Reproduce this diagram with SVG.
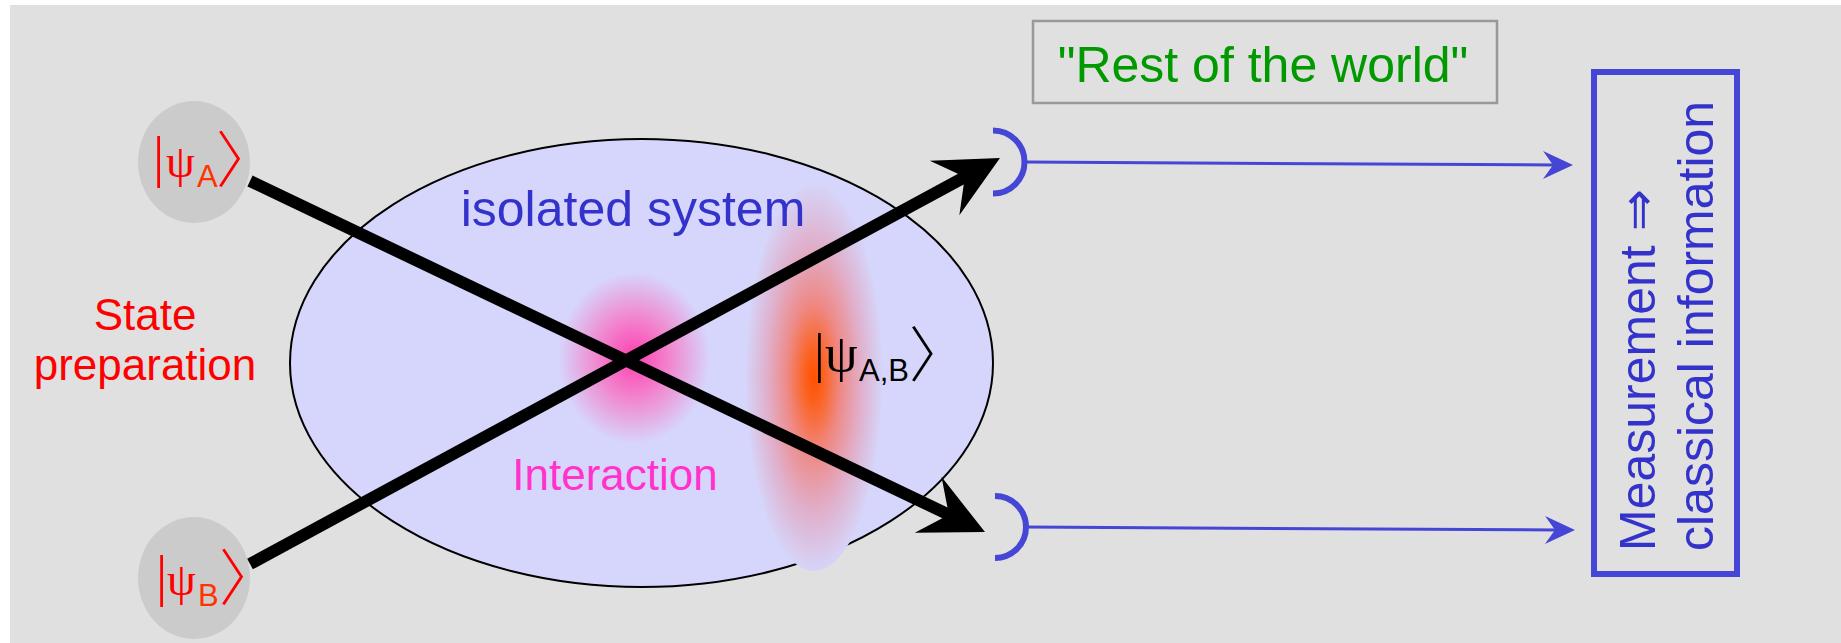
<svg xmlns="http://www.w3.org/2000/svg" width="1841" height="643" viewBox="0 0 1841 643">
<style>
.sans{font-family:"Liberation Sans",Arial,sans-serif}
.serif{font-family:"Liberation Serif","Times New Roman",serif}
.brk{font-family:"Noto Sans CJK JP",sans-serif;font-weight:300}
.bigline{stroke:#000;stroke-width:12;fill:none}
.blueline{stroke:#4646d6;stroke-width:3;fill:none}
.arc{stroke:#4646d6;stroke-width:6;fill:none}
.prep{fill:#cbcbcb}
</style>
<defs>
<marker id="bigArrow" markerUnits="userSpaceOnUse" orient="auto" overflow="visible" markerWidth="1" markerHeight="1" refX="0" refY="0">
<path d="M35,0 L-28,-31 L-5,0 L-28,31 Z" fill="#000"/>
</marker>
<marker id="blueArrow" markerUnits="userSpaceOnUse" orient="auto" overflow="visible" markerWidth="1" markerHeight="1" refX="0" refY="0">
<path d="M18,0 L-12,-14 L-2,0 L-12,14 Z" fill="#4646d6"/>
</marker>
<radialGradient id="pinkGrad" cx="0.5" cy="0.5" r="0.5">
<stop offset="0" stop-color="#ff3fb0"/>
<stop offset="0.5" stop-color="#f08ad0"/>
<stop offset="1" stop-color="#d6d6fc"/>
</radialGradient>
<radialGradient id="orangeGrad" cx="0.5" cy="0.5" r="0.5">
<stop offset="0" stop-color="#ff5000"/>
<stop offset="0.15" stop-color="#fb6424"/>
<stop offset="0.4" stop-color="#ee8a88"/>
<stop offset="0.7" stop-color="#e0b0cc"/>
<stop offset="1" stop-color="#d6d4f8"/>
</radialGradient>
</defs>
<rect x="0" y="0" width="1841" height="643" fill="#ffffff"/>
<rect x="10" y="5" width="1831" height="638" fill="#e0e0e0"/>

<g id="isolated-system">
<ellipse cx="641.5" cy="363" rx="351.5" ry="224" fill="#d6d6fc" stroke="#000" stroke-width="2"/>
</g>

<g id="interaction">
<ellipse cx="634" cy="358" rx="76" ry="86" fill="url(#pinkGrad)"/>
<text class="sans" x="615" y="490" font-size="44" fill="#ff33cc" text-anchor="middle">Interaction</text>
</g>

<g id="entangled-state">
<ellipse cx="814" cy="378" rx="68" ry="193" fill="url(#orangeGrad)"/>
<text fill="#000"><tspan class="serif" x="814" y="371" font-size="54">|</tspan><tspan class="serif" x="825" y="371" font-size="52">ψ</tspan><tspan class="sans" x="859" y="381" font-size="31">A,B</tspan><tspan class="brk" x="909" y="377" font-size="60">〉</tspan></text>
</g>

<g id="isolated-system-label">
<text class="sans" x="633" y="226" font-size="50" fill="#3333cc" text-anchor="middle">isolated system</text>
</g>

<g id="state-preparation-label">
<text class="sans" font-size="44" fill="#ff0000" text-anchor="middle"><tspan x="145" y="330">State</tspan><tspan x="145" y="380">preparation</tspan></text>
</g>

<g id="connectors">
<path class="bigline" d="M250,181 L953.4,516.9" marker-end="url(#bigArrow)"/>
<path class="bigline" d="M250,564 L969.2,174.6" marker-end="url(#bigArrow)"/>
<path class="blueline" d="M1025,162 L1555,165" marker-end="url(#blueArrow)"/>
<path class="blueline" d="M1026,527 L1557,530" marker-end="url(#blueArrow)"/>
</g>

<g id="psiA">
<ellipse class="prep" cx="194" cy="162" rx="56" ry="61"/>
<text fill="#ff0000"><tspan class="serif" x="153" y="176" font-size="56">|</tspan><tspan class="serif" x="166" y="177" font-size="46">ψ</tspan><tspan class="sans" x="197" y="187" font-size="31" fill="#ff3300">A</tspan><tspan class="brk" x="216" y="182" font-size="61">〉</tspan></text>
</g>

<g id="psiB">
<ellipse class="prep" cx="194" cy="578" rx="56" ry="61"/>
<text fill="#ff0000"><tspan class="serif" x="156" y="595" font-size="56">|</tspan><tspan class="serif" x="167" y="595" font-size="46">ψ</tspan><tspan class="sans" x="198" y="606" font-size="31" fill="#ff3300">B</tspan><tspan class="brk" x="219" y="600" font-size="61">〉</tspan></text>
</g>

<g id="detector-top">
<path class="arc" d="M993,130.5 A31.5,31.5 0 0 1 993,193.5"/>
</g>
<g id="detector-bottom">
<path class="arc" d="M995,496 A31,31 0 0 1 995,558"/>
</g>

<g id="rest-of-world">
<rect x="1033" y="21" width="464" height="82" fill="none" stroke="#999999" stroke-width="2.5"/>
<text class="sans" x="1263" y="82" font-size="50" fill="#009900" text-anchor="middle">"Rest of the world"</text>
</g>

<g id="measurement">
<rect x="1594" y="72" width="143" height="502" fill="none" stroke="#4646d6" stroke-width="6"/>
<text class="sans" font-size="50" fill="#3333cc" transform="rotate(-90)"><tspan x="-551" y="1655">Measurement ⇒</tspan><tspan x="-551" y="1713">classical information</tspan></text>
</g>
</svg>
